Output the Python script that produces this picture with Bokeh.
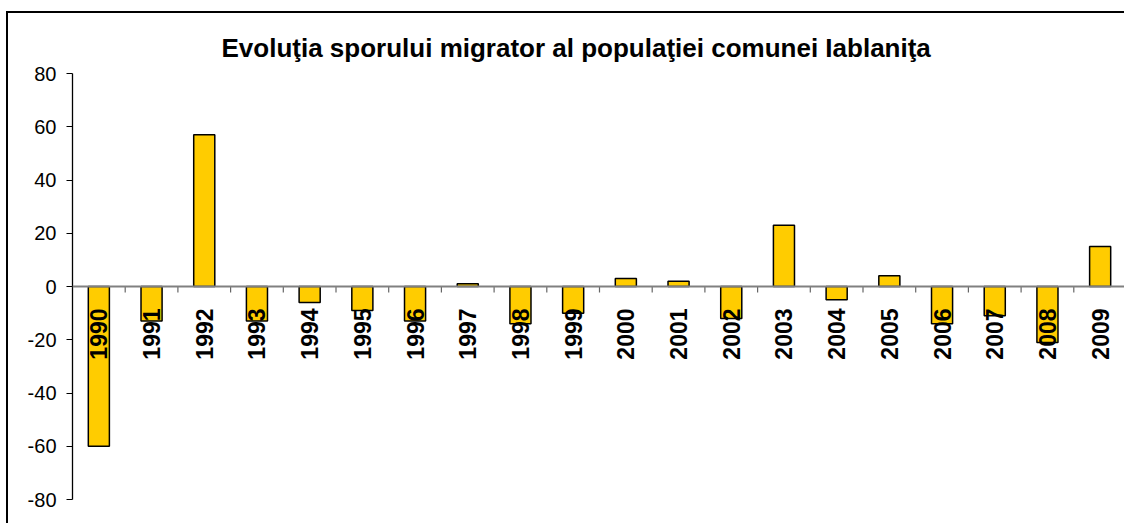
import math
from bokeh.plotting import figure
from bokeh.models import FixedTicker, Range1d, ColumnDataSource, Span
from bokeh.core.properties import value
from bokeh.embed import file_html
from bokeh.resources import INLINE

# ---- data ----
years = ["1990", "1991", "1992", "1993", "1994", "1995", "1996", "1997", "1998", "1999",
         "2000", "2001", "2002", "2003", "2004", "2005", "2006", "2007", "2008", "2009"]
values = [-60, -13, 57, -13, -6, -9, -13, 1, -14, -10,
          3, 2, -12, 23, -5, 4, -14, -11, -21, 15]
y_ticks = [-80, -60, -40, -20, 0, 20, 40, 60, 80]
y_tick_labels = ["-80", "-60", "-40", "-20", "0", "20", "40", "60", "80"]
title_text = "Evoluţia sporului migrator al populaţiei comunei Iablaniţa"

positions = [i + 1 for i in range(len(years))]
boundaries = [i + 1.5 for i in range(len(years))]

src = ColumnDataSource(dict(x=positions, v=values, year=years, zero=[0] * len(years)))
tick_src = ColumnDataSource(dict(x=boundaries, y0=[0] * len(boundaries),
                                 y1=[-2.25] * len(boundaries)))

FONT = "Liberation Sans"

p = figure(width=1118, height=512,
           x_range=Range1d(0.5, len(years) + 0.5), y_range=Range1d(y_ticks[0], y_ticks[-1]),
           x_axis_type=None, output_backend="svg", toolbar_location=None,
           min_border_left=64, min_border_top=60, min_border_bottom=26, min_border_right=0,
           title=title_text)
p.styles = {"border-top": "2px solid black", "border-left": "2px solid black",
            "margin-top": "11px", "margin-left": "6px"}

p.title.align = "left"
p.title.offset = 149
p.title.standoff = 22
p.title.text_font = FONT
p.title.text_font_size = "26px"
p.title.text_font_style = "bold"
p.title.text_color = "black"

p.outline_line_color = None
p.xgrid.visible = False
p.ygrid.visible = False

yax = p.yaxis[0]
yax.ticker = FixedTicker(ticks=y_ticks)
yax.major_label_overrides = dict(zip(y_ticks, y_tick_labels))
yax.major_tick_out = 6
yax.major_tick_in = 0
yax.minor_tick_line_color = None
yax.axis_line_color = "black"
yax.axis_line_width = 1.3
yax.major_tick_line_color = "black"
yax.major_label_text_font = FONT
yax.major_label_text_font_size = "20px"
yax.major_label_text_color = "black"
yax.major_label_standoff = 10

# bars
p.vbar(x="x", top="v", bottom=0, width=0.4, source=src,
       fill_color="#FFCC00", line_color="black", line_width=1.5)

# category axis line at zero with ticks at category boundaries
p.add_layout(Span(location=0, dimension="width", line_color="#808080", line_width=2))
p.segment(x0="x", y0="y0", x1="x", y1="y1", source=tick_src,
          line_color="#666666", line_width=1.2)

# category labels, rotated, just below zero line
p.text(x="x", y="zero", text="year", source=src, angle=math.pi / 2,
       text_align="right", text_baseline="middle", y_offset=22,
       text_font=value(FONT), text_font_style="bold", text_font_size="23px",
       text_color="black")

open("out.html", "w").write(file_html(p, INLINE))
